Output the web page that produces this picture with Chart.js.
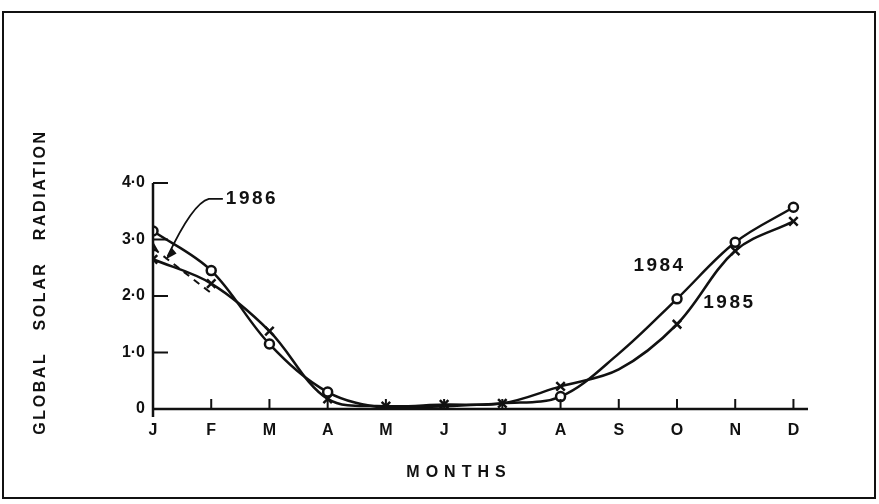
<!DOCTYPE html>
<html>
<head>
<meta charset="utf-8">
<script src="https://cdn.jsdelivr.net/npm/chart.js@4.4.0/dist/chart.umd.min.js"></script>
<style>
  html, body { margin: 0; padding: 0; background: #fff; }
  #wrap { width: 879px; height: 504px; position: relative; }
</style>
</head>
<body>
<div id="wrap"><canvas id="chart"></canvas></div>
<script>
const MONTHS = ['J', 'F', 'M', 'A', 'M', 'J', 'J', 'A', 'S', 'O', 'N', 'D'];
const Y_TICKS = [0, 1, 2, 3, 4];
const Y_TICK_LABELS = ['0', '1·0', '2·0', '3·0', '4·0'];

// monthly values (S has no marker, curve value only)
const R1984 = [3.15, 2.45, 1.15, 0.3, 0.02, 0.05, 0.1, 0.22, 0.98, 1.95, 2.95, 3.57];
const R1985 = [2.65, 2.22, 1.38, 0.18, 0.05, 0.08, 0.1, 0.4, 0.7, 1.5, 2.8, 3.32];
const R1986 = [2.85, 2.05, null, null, null, null, null, null, null, null, null, null];
const MARK1984 = [1, 1, 1, 1, 0, 0, 0, 1, 0, 1, 1, 1];
const MARK1985 = [1, 1, 1, 1, 1, 1, 1, 1, 0, 1, 1, 1];

const SERIES_LABELS = [
  { text: '1984', x: 8.7, y: 2.53 },
  { text: '1985', x: 9.9, y: 1.88 },
  { text: '1986', x: 1.7, y: 3.72 },
];

const INK = '#111';
const toXY = (arr) => arr.map((v, i) => ({ x: i, y: v }));

const decor = {
  id: 'decor',
  afterDraw(chart) {
    const { ctx, scales: { x, y } } = chart;
    const x0 = x.getPixelForValue(0);
    const y0 = y.getPixelForValue(0);
    const yTop = y.getPixelForValue(4);
    ctx.save();
    ctx.strokeStyle = INK;
    ctx.fillStyle = INK;
    ctx.lineCap = 'butt';

    // outer frame
    ctx.lineWidth = 2;
    ctx.strokeRect(3, 12, 872, 486);

    // axes
    ctx.lineWidth = 2.5;
    ctx.beginPath();
    ctx.moveTo(x0, yTop);
    ctx.lineTo(x0, y0 + 8);
    ctx.moveTo(x0, y0);
    ctx.lineTo(x.right, y0);
    ctx.stroke();

    // inward ticks
    ctx.lineWidth = 2;
    ctx.beginPath();
    Y_TICKS.slice(1).forEach((v) => {
      const py = y.getPixelForValue(v);
      ctx.moveTo(x0, py);
      ctx.lineTo(x0 + 15, py);
    });
    MONTHS.forEach((m, i) => {
      if (i === 0) return;
      const px = x.getPixelForValue(i);
      ctx.moveTo(px, y0);
      ctx.lineTo(px, y0 - 10);
    });
    ctx.stroke();

    // series labels
    ctx.font = 'bold 19px "Liberation Sans", Arial, sans-serif';
    ctx.textAlign = 'center';
    ctx.textBaseline = 'middle';
    ctx.letterSpacing = '2.5px';
    SERIES_LABELS.forEach((l) => {
      ctx.fillText(l.text, x.getPixelForValue(l.x), y.getPixelForValue(l.y));
    });

    // arrow from 1986 label to its curve
    const ax = x.getPixelForValue(1.2), ay = y.getPixelForValue(3.72);
    const tx = x.getPixelForValue(0.25), ty = y.getPixelForValue(2.7);
    ctx.lineWidth = 1.8;
    ctx.beginPath();
    ctx.moveTo(ax, ay);
    ctx.lineTo(ax - 14, ay);
    ctx.quadraticCurveTo(ax - 30, ay + 4, tx, ty);
    ctx.stroke();
    ctx.beginPath();
    ctx.moveTo(tx - 2, ty + 3);
    ctx.lineTo(tx + 9, ty - 3);
    ctx.lineTo(tx + 4, ty - 9);
    ctx.closePath();
    ctx.fill();

    // axis titles
    ctx.letterSpacing = '6px';
    ctx.font = 'bold 16px "Liberation Sans", Arial, sans-serif';
    ctx.fillText('MONTHS', 459, 473);
    ctx.save();
    ctx.translate(41, 282);
    ctx.rotate(-Math.PI / 2);
    ctx.font = 'bold 16px "Liberation Sans", Arial, sans-serif';
    ctx.letterSpacing = '2.6px';
    ctx.fillText('GLOBAL   SOLAR   RADIATION', 0, 0);
    ctx.restore();
    ctx.restore();
  },
};

const line = (data, extra) => Object.assign({
  data: toXY(data),
  borderColor: INK,
  borderWidth: 2.5,
  backgroundColor: '#fff',
  pointBorderColor: INK,
  pointBorderWidth: 2.5,
  tension: 0.35,
  spanGaps: true,
  fill: false,
}, extra);

new Chart(document.getElementById('chart'), {
  type: 'line',
  data: {
    datasets: [
      line(R1984, {
        label: '1984',
        pointStyle: 'circle',
        pointRadius: MARK1984.map((m) => (m ? 4.5 : 0)),
      }),
      line(R1985, {
        label: '1985',
        pointStyle: 'crossRot',
        pointRadius: MARK1985.map((m) => (m ? 6 : 0)),
      }),
      line(R1986, {
        label: '1986',
        borderDash: [7, 6],
        borderWidth: 2,
        pointStyle: 'triangle',
        pointRadius: [4, 0],
        spanGaps: false,
      }),
    ],
  },
  options: {
    responsive: true,
    maintainAspectRatio: false,
    animation: false,
    layout: { padding: { top: 183, right: 71, left: 0, bottom: 0 } },
    plugins: { legend: { display: false }, tooltip: { enabled: false } },
    scales: {
      x: {
        type: 'linear',
        min: 0,
        max: 11.25,
        grid: { display: false, drawTicks: false },
        border: { display: false },
        afterBuildTicks: (s) => { s.ticks = MONTHS.map((_, i) => ({ value: i })); },
        afterFit: (s) => { s.height = 95; },
        ticks: {
          padding: 12,
          color: INK,
          autoSkip: false,
          maxRotation: 0,
          font: { family: '"Liberation Sans", Arial, sans-serif', size: 16, weight: 'bold' },
          callback: (v) => MONTHS[v] ?? '',
        },
      },
      y: {
        min: 0,
        max: 4,
        grid: { display: false, drawTicks: false },
        border: { display: false },
        afterBuildTicks: (s) => { s.ticks = Y_TICKS.map((v) => ({ value: v })); },
        afterFit: (s) => { s.width = 153; },
        ticks: {
          padding: 8,
          color: INK,
          font: { family: '"Liberation Sans", Arial, sans-serif', size: 16, weight: 'bold' },
          callback: (v) => Y_TICK_LABELS[Y_TICKS.indexOf(v)] ?? '',
        },
      },
    },
  },
  plugins: [decor],
});
</script>
</body>
</html>
